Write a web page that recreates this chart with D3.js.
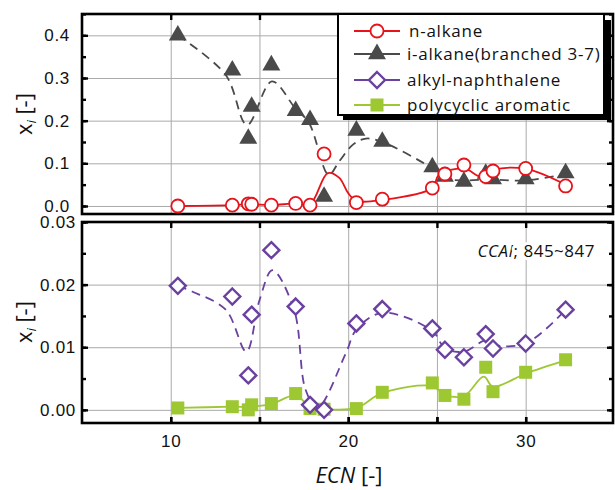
<!DOCTYPE html>
<html>
<head>
<meta charset="utf-8">
<script src="https://cdn.jsdelivr.net/npm/d3@7"></script>
<style>
  body { margin: 0; background: #fff; }
  svg { display: block; font-family: "Open Sans", sans-serif; }
  .tick text { font-size: 17px; letter-spacing: 0.7px; fill: #111; }
</style>
</head>
<body>
<div id="chart"></div>
<script>
// ECN of each measured component (shared by every series)
const ecn = [10.4, 13.47, 14.37, 14.56, 15.67, 17.04, 17.85, 18.64, 20.46, 21.92, 24.74, 25.45, 26.52, 27.75, 28.16, 30.0, 32.25]

const nAlkane = [0.000, 0.002, 0.005, 0.004, 0.002, 0.006, 0.002, 0.122, 0.008, 0.016, 0.042, 0.075, 0.096, 0.069, 0.082, 0.088, 0.047]
const iAlkane = [0.400, 0.318, 0.158, 0.233, 0.330, 0.223, 0.202, 0.022, 0.177, 0.151, 0.091, 0.069, 0.057, 0.076, 0.063, 0.063, 0.077]
const alkylNaph = [0.0198, 0.0181, 0.0055, 0.0152, 0.0255, 0.0165, 0.0008, 0.0000, 0.0138, 0.0161, 0.0130, 0.0096, 0.0084, 0.0121, 0.0098, 0.0106, 0.0160]
const polyArom = [0.0003, 0.0005, 0.0000, 0.0008, 0.0010, 0.0026, 0.0002, 0.0001, 0.0002, 0.0028, 0.0043, 0.0023, 0.0017, 0.0068, 0.0029, 0.0060, 0.0080]

// smoothed trend curves
const nAlkaneFitX = [10.4, 13.47, 14.45, 15.67, 17.04, 17.85, 18.85, 19.5, 20.0, 20.46, 21.92, 24.74, 25.1, 26.52, 27.5, 28.16, 30.0, 32.25]
const nAlkaneFit = [0.000, 0.002, 0.004, 0.002, 0.006, 0.004, 0.077, 0.066, 0.030, 0.012, 0.014, 0.042, 0.072, 0.088, 0.068, 0.084, 0.087, 0.050]
const iAlkaneFitX = [10.4, 13.1, 14.3, 15.7, 17.0, 17.8, 18.9, 19.5, 20.3, 21.0, 21.92, 24.74, 25.45, 26.52, 27.75, 28.16, 30.0, 32.25]
const iAlkaneFit = [0.400, 0.307, 0.190, 0.292, 0.230, 0.194, 0.073, 0.105, 0.145, 0.158, 0.150, 0.088, 0.065, 0.060, 0.062, 0.062, 0.060, 0.075]
const alkylFitX = [10.4, 11.2, 13.1, 14.26, 15.0, 15.73, 16.95, 17.6, 18.26, 19.86, 20.46, 21.92, 24.74, 25.45, 26.52, 27.75, 28.16, 30.0, 32.25]
const alkylFit = [0.0198, 0.0189, 0.0160, 0.0093, 0.0175, 0.0223, 0.0160, 0.0032, 0.0003, 0.0090, 0.0128, 0.0155, 0.0126, 0.0098, 0.0093, 0.0111, 0.0104, 0.0106, 0.0160]
const polyFitX = [10.4, 13.47, 14.5, 15.67, 17.04, 17.9, 18.64, 20.46, 21.92, 24.74, 25.45, 26.52, 27.64, 28.16, 30.0, 32.25]
const polyFit = [0.0003, 0.0005, 0.0005, 0.0009, 0.0023, 0.0003, 0.0001, 0.0003, 0.0027, 0.0038, 0.0024, 0.0022, 0.0053, 0.0037, 0.0058, 0.0079]

const xTickLabels = [10, 20, 30]
const topTicks = [0.0, 0.1, 0.2, 0.3, 0.4]
const bottomTicks = [0.00, 0.01, 0.02, 0.03]
const legendNames = ['n-alkane', 'i-alkane(branched 3-7)', 'alkyl-naphthalene', 'polycyclic aromatic']

const width = 615
const height = 490
const left = 82
const right = 613

const svg = d3.select('#chart').append('svg')
    .attr('width', width)
    .attr('height', height)

const xScale = d3.scaleLinear().domain([5, 35]).range([left, 614.4])

const colors = { red: '#e8121a', grey: '#4a4a4a', purple: '#6a40a0', green: '#9dc832' }

const markers = {
    circle: g => g.append('circle').attr('r', 6.5).attr('fill', '#fff').attr('stroke', colors.red).attr('stroke-width', 1.8),
    triangle: g => g.append('path').attr('d', d3.symbol(d3.symbolTriangle, 140)()).attr('fill', colors.grey),
    diamond: g => g.append('path').attr('d', 'M0,-8L8,0L0,8L-8,0Z').attr('fill', '#fff').attr('stroke', colors.purple).attr('stroke-width', 2.4),
    square: g => g.append('rect').attr('x', -6.5).attr('y', -6.5).attr('width', 13).attr('height', 13).attr('fill', colors.green)
}

const drawPanel = (top, bottom, yDomain, majors, minorStep, labelPad, fmt) => {
    const yScale = d3.scaleLinear().domain(yDomain).range([bottom, top])
    const g = svg.append('g')
    const minors = d3.range(yDomain[0] < 0 ? 0 : yDomain[0], yDomain[1] + 1e-9, minorStep)

    // grid
    g.append('g').attr('transform', `translate(0,${bottom})`)
        .call(d3.axisBottom(xScale).tickValues([10, 15, 20, 25, 30]).tickSize(-(bottom - top)).tickFormat(''))
        .call(a => a.select('.domain').remove())
        .call(a => a.selectAll('line').attr('stroke', '#aaa'))
    g.append('g').attr('transform', `translate(${left},0)`)
        .call(d3.axisLeft(yScale).tickValues(majors).tickSize(-(right - left)).tickFormat(''))
        .call(a => a.select('.domain').remove())
        .call(a => a.selectAll('line').attr('stroke', '#aaa'))

    // inward ticks on all four sides
    const tickStyle = a => {
        a.select('.domain').remove()
        a.selectAll('line').attr('stroke', '#000').attr('stroke-width', 2.4)
    }
    g.append('g').attr('transform', `translate(${left},0)`)
        .call(d3.axisLeft(yScale).tickValues(majors).tickSizeInner(-6).tickSizeOuter(0).tickPadding(labelPad).tickFormat(d3.format(fmt)))
        .call(tickStyle)
    g.append('g').attr('transform', `translate(${left},0)`)
        .call(d3.axisLeft(yScale).tickValues(minors).tickSizeInner(-4).tickSizeOuter(0).tickFormat(''))
        .call(tickStyle)
    g.append('g').attr('transform', `translate(${right},0)`)
        .call(d3.axisRight(yScale).tickValues(majors).tickSizeInner(-6).tickSizeOuter(0).tickFormat(''))
        .call(tickStyle)
    g.append('g').attr('transform', `translate(${right},0)`)
        .call(d3.axisRight(yScale).tickValues(minors).tickSizeInner(-4).tickSizeOuter(0).tickFormat(''))
        .call(tickStyle)
    g.append('g').attr('transform', `translate(0,${top})`)
        .call(d3.axisTop(xScale).tickValues([10, 15, 20, 25, 30]).tickSizeInner(-6).tickSizeOuter(0).tickFormat(''))
        .call(tickStyle)
    g.append('g').attr('class', 'x-bottom').attr('transform', `translate(0,${bottom})`)
        .call(d3.axisBottom(xScale).tickValues([10, 15, 20, 25, 30]).tickSizeInner(-6).tickSizeOuter(0).tickFormat(''))
        .call(tickStyle)

    g.append('rect')
        .attr('x', left).attr('y', top)
        .attr('width', right - left).attr('height', bottom - top)
        .attr('fill', 'none').attr('stroke', '#000').attr('stroke-width', 2.6)

    return { g, yScale }
}

const drawSeries = (panel, fitX, fitY, xs, ys, color, dashed, marker) => {
    const line = d3.line()
        .x(d => xScale(d[0]))
        .y(d => panel.yScale(d[1]))
        .curve(d3.curveCatmullRom.alpha(0.5))
    panel.g.append('path')
        .datum(d3.zip(fitX, fitY))
        .attr('d', line)
        .attr('fill', 'none')
        .attr('stroke', color)
        .attr('stroke-width', 1.8)
        .attr('stroke-dasharray', dashed ? '9,6' : null)
    panel.g.selectAll(null)
        .data(d3.zip(xs, ys))
        .enter()
        .append('g')
        .attr('transform', d => `translate(${xScale(d[0])},${panel.yScale(d[1])})`)
        .each(function () { markers[marker](d3.select(this)) })
}

// ---- top panel ----
const topPanel = drawPanel(14, 214, [-0.0188, 0.45], topTicks, 0.05, 12, '.1f')
drawSeries(topPanel, iAlkaneFitX, iAlkaneFit, ecn, iAlkane, colors.grey, true, 'triangle')
drawSeries(topPanel, nAlkaneFitX, nAlkaneFit, ecn, nAlkane, colors.red, false, 'circle')

// ---- bottom panel ----
const botPanel = drawPanel(222, 423, [-0.0021, 0.03], bottomTicks, 0.005, 6, '.2f')
svg.select('.x-bottom').remove()
const xAxisG = botPanel.g.append('g').attr('transform', 'translate(0,423)')
    .call(d3.axisBottom(xScale).tickValues([10, 15, 20, 25, 30]).tickSizeInner(-6).tickSizeOuter(0).tickPadding(12)
        .tickFormat(d => xTickLabels.includes(d) ? d : ''))
xAxisG.select('.domain').remove()
xAxisG.selectAll('line').attr('stroke', '#000').attr('stroke-width', 2.4)

drawSeries(botPanel, polyFitX, polyFit, ecn, polyArom, colors.green, false, 'square')
drawSeries(botPanel, alkylFitX, alkylFit, ecn, alkylNaph, colors.purple, true, 'diamond')

// CCAI note with white backing
const note = svg.append('text')
    .attr('x', 595).attr('y', 257)
    .attr('text-anchor', 'end')
    .attr('font-size', 17)
    .attr('letter-spacing', 0.5)
    .attr('fill', '#111')
    .attr('stroke', '#fff').attr('stroke-width', 6).attr('paint-order', 'stroke')
note.append('tspan').attr('font-style', 'italic').text('CCAI')
note.append('tspan').text('; 845~847')

// ---- legend ----
const legend = svg.append('g')
legend.append('rect').attr('x', 343).attr('y', 20).attr('width', 268).attr('height', 100).attr('fill', '#000')
legend.append('rect').attr('x', 338).attr('y', 14).attr('width', 266).attr('height', 101)
    .attr('fill', '#fff').attr('stroke', '#000').attr('stroke-width', 2)
const legendRows = [
    { color: colors.red, marker: 'circle', y: 31 },
    { color: colors.grey, marker: 'triangle', y: 54 },
    { color: colors.purple, marker: 'diamond', y: 80 },
    { color: colors.green, marker: 'square', y: 105 }
]
legendRows.forEach((r, i) => {
    legend.append('line').attr('x1', 354).attr('x2', 400).attr('y1', r.y).attr('y2', r.y)
        .attr('stroke', r.color).attr('stroke-width', 1.8)
    markers[r.marker](legend.append('g').attr('transform', `translate(377,${r.y})`))
    legend.append('text')
        .attr('x', i === 0 ? 409 : 407).attr('y', r.y + 6)
        .attr('font-size', 17).attr('letter-spacing', 0.75).attr('fill', '#111')
        .text(legendNames[i])
})

// ---- axis titles ----
const yTitle = (cy) => {
    const t = svg.append('text')
        .attr('transform', `translate(32,${cy}) rotate(-90)`)
        .attr('text-anchor', 'middle')
        .attr('font-size', 22)
        .attr('fill', '#111')
    t.append('tspan').text('x')
    t.append('tspan').attr('font-size', 12).attr('font-style', 'italic').attr('dy', 4).text('i')
    t.append('tspan').attr('dy', -4).text(' [-]')
}
yTitle(114)
yTitle(322)

const xTitle = svg.append('text')
    .attr('x', 349).attr('y', 483)
    .attr('text-anchor', 'middle')
    .attr('font-size', 22)
    .attr('fill', '#111')
xTitle.append('tspan').attr('font-style', 'italic').text('ECN')
xTitle.append('tspan').text(' [-]')
</script>
</body>
</html>
